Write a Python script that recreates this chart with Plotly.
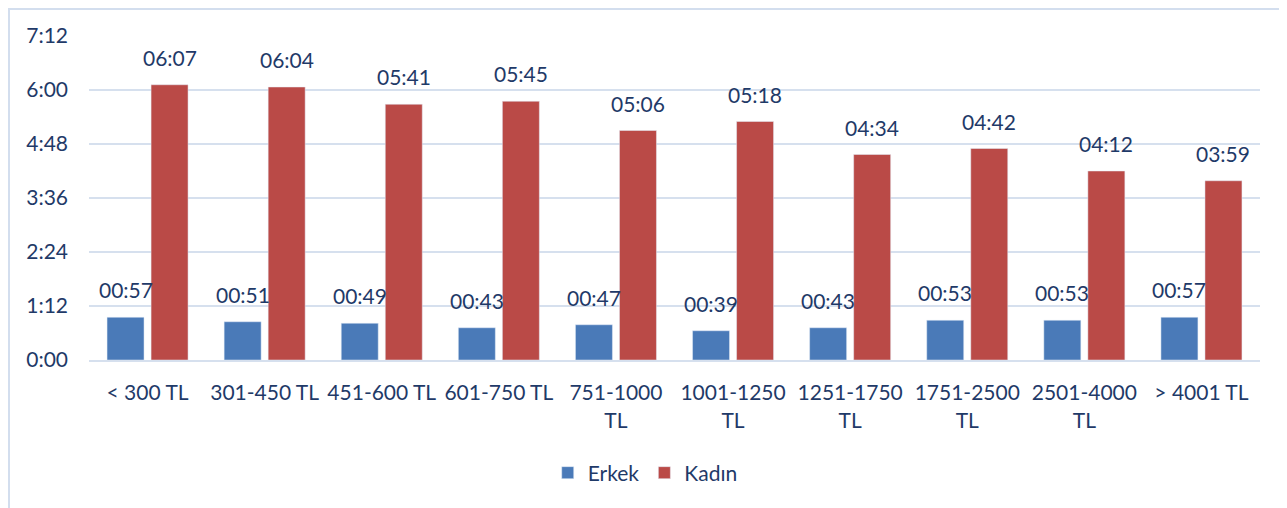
import plotly.graph_objects as go

categories = ["< 300 TL", "301-450 TL", "451-600 TL", "601-750 TL", "751-1000<br>TL",
              "1001-1250<br>TL", "1251-1750<br>TL", "1751-2500<br>TL", "2501-4000<br>TL", "> 4001 TL"]
# minutes per day
erkek = [57, 51, 49, 43, 47, 39, 43, 53, 53, 57]
kadin = [367, 364, 341, 345, 306, 318, 274, 282, 252, 239]
tick_vals = [0, 72, 144, 216, 288, 360, 432]
tick_text = ["0:00", "1:12", "2:24", "3:36", "4:48", "6:00", "7:12"]

font_color = "#1F3A68"
font_family = "Lato, 'Noto Sans', sans-serif"


def hhmm(m):
    return f"{m // 60:02d}:{m % 60:02d}"


fig = go.Figure()
fig.add_trace(go.Bar(name="Erkek", x=categories, y=erkek, marker_color="#4A7AB8"))
fig.add_trace(go.Bar(name="Kadın", x=categories, y=kadin, marker_color="#BA4A47"))

# data labels above bars
annotations = []
for cat, e, k in zip(categories, erkek, kadin):
    annotations.append(dict(x=cat, y=e, text=hhmm(e), xshift=-22, yshift=13,
                            yanchor="bottom", showarrow=False))
    annotations.append(dict(x=cat, y=k, text=hhmm(k), xshift=22, yshift=13,
                            yanchor="bottom", showarrow=False))

# light frame around the chart (svg starts 8px into the page)
plot_w, plot_h = 1171, 324
fig.update_layout(
    width=1279, height=500,
    margin=dict(l=81, r=27, t=28, b=148),
    plot_bgcolor="white", paper_bgcolor="white",
    barmode="group", bargap=0.248, bargroupgap=0.16,
    font=dict(family=font_family, size=21, color=font_color),
    annotations=annotations,
    legend=dict(orientation="h", x=0.475, xanchor="center", yref="container",
                y=0.07, yanchor="middle", font=dict(size=21), itemwidth=30,
                traceorder="normal"),
    shapes=[dict(type="rect", xref="paper", yref="paper",
                 x0=(1 - 81) / plot_w, x1=(1300 - 81) / plot_w,
                 y0=-(520 - 352) / plot_h, y1=1 + (28 - 1) / plot_h,
                 line=dict(color="#D3DEEE", width=2), fillcolor="rgba(0,0,0,0)",
                 layer="above")],
)
fig.update_xaxes(showgrid=False, showline=True, linecolor="#D6E0EE", linewidth=2,
                 ticks="", tickfont=dict(size=21), ticklabelstandoff=13, automargin=False)
fig.update_yaxes(range=[0, 432], tickvals=tick_vals, ticktext=tick_text,
                 showgrid=True, gridcolor="#D6E0EE", gridwidth=2, zeroline=False,
                 showline=False, ticks="", tickfont=dict(size=21), ticklabelstandoff=20,
                 automargin=False)

fig.write_html("out.html")
